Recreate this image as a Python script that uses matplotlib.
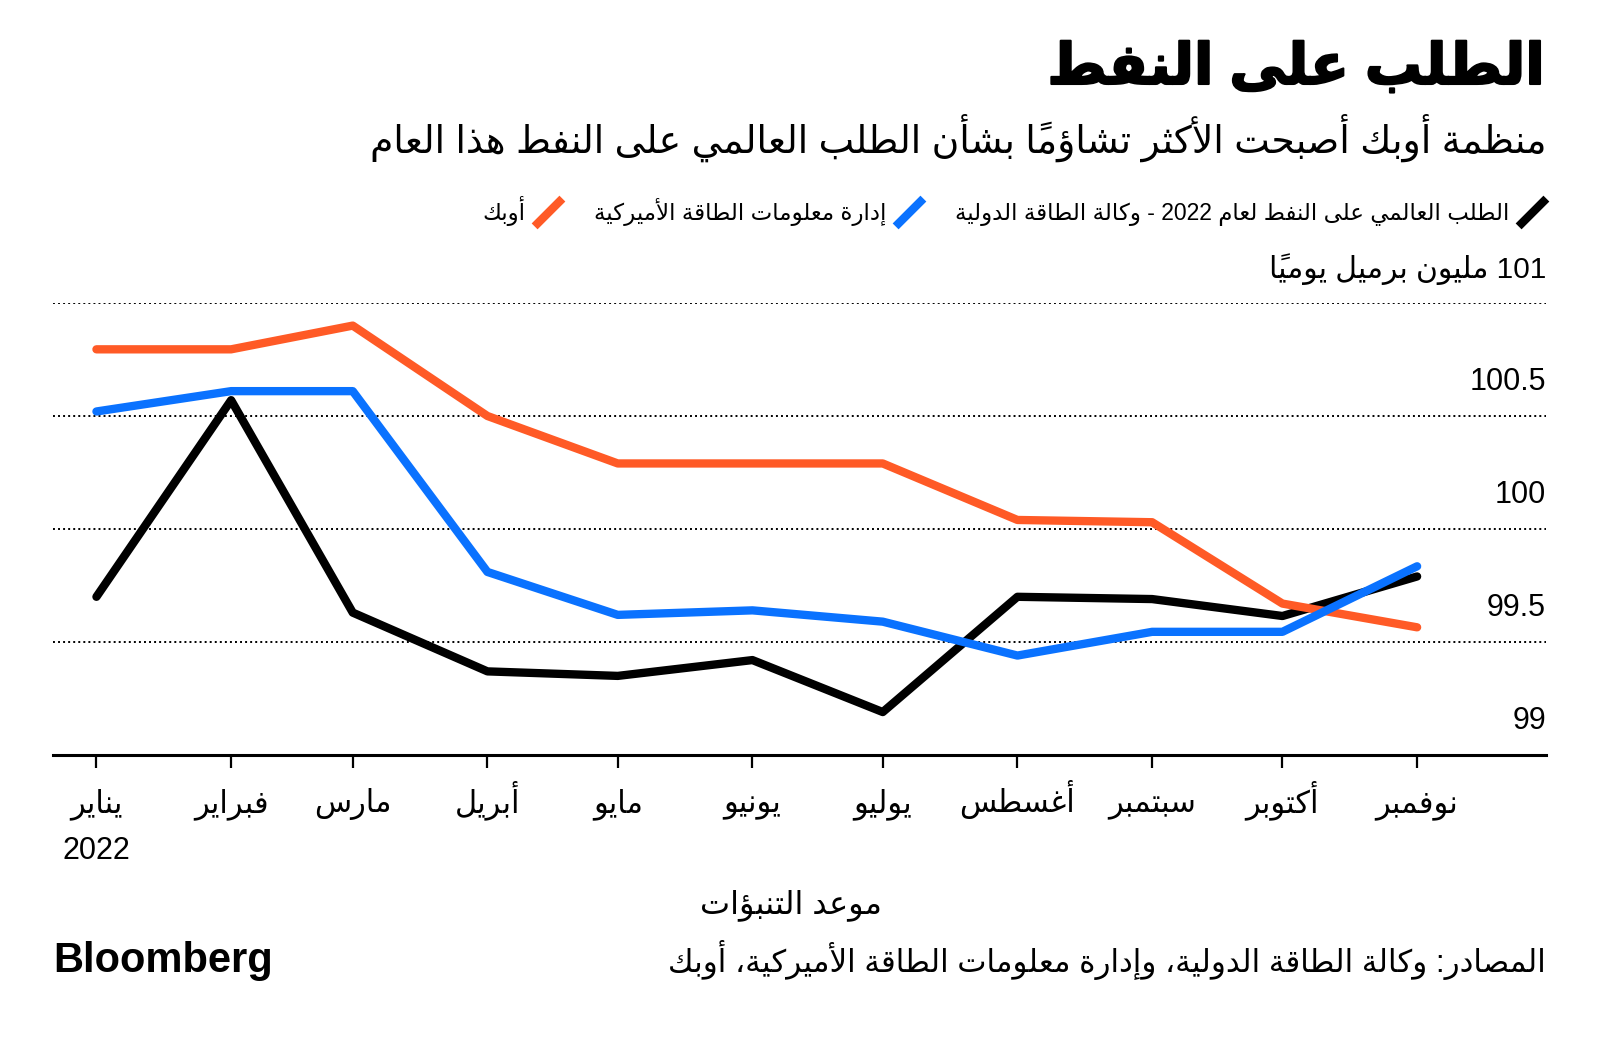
import datetime as dt
import matplotlib
matplotlib.use('Agg')
import matplotlib.pyplot as plt
import matplotlib.patheffects as pe
from matplotlib.lines import Line2D
from matplotlib.path import Path
from matplotlib.markers import MarkerStyle
from matplotlib.transforms import offset_copy

# ---- data ----
dates = ['2022-01-01', '2022-02-01', '2022-03-01', '2022-04-01', '2022-05-01', '2022-06-01',
         '2022-07-01', '2022-08-01', '2022-09-01', '2022-10-01', '2022-11-01']
iea = [99.70, 100.57, 99.63, 99.37, 99.35, 99.42, 99.19, 99.70, 99.69, 99.615, 99.79]
eia = [100.52, 100.61, 100.61, 99.81, 99.62, 99.64, 99.59, 99.44, 99.545, 99.545, 99.835]
opec = [100.795, 100.795, 100.90, 100.50, 100.29, 100.29, 100.29, 100.04, 100.03, 99.67, 99.565]

months = ['يناير', 'فبراير', 'مارس', 'أبريل', 'مايو', 'يونيو', 'يوليو',
          'أغسطس', 'سبتمبر', 'أكتوبر', 'نوفمبر']
year_label = '2022'
yticks = [99, 99.5, 100, 100.5, 101]
ylabels = ['99', '99.5', '100', '100.5', '101 مليون برميل يومياً']

names = ['الطلب العالمي على النفط لعام 2022 - وكالة الطاقة الدولية',
         'إدارة معلومات الطاقة الأميركية', 'أوبك']
colors = ['black', '#0a72ff', '#ff5a26']

title = 'الطلب على النفط'
subtitle = 'منظمة أوبك أصبحت الأكثر تشاؤماً بشأن الطلب العالمي على النفط هذا العام'
xlabel = 'موعد التنبؤات'
source = 'المصادر: وكالة الطاقة الدولية، وإدارة معلومات الطاقة الأميركية، أوبك'


# ---- minimal arabic shaping (no reshaper lib available) ----
ARABIC = {
    'ء': (0xFE80, 1), 'آ': (0xFE81, 2), 'أ': (0xFE83, 2), 'ؤ': (0xFE85, 2), 'إ': (0xFE87, 2),
    'ئ': (0xFE89, 4), 'ا': (0xFE8D, 2), 'ب': (0xFE8F, 4), 'ة': (0xFE93, 2), 'ت': (0xFE95, 4),
    'ث': (0xFE99, 4), 'ج': (0xFE9D, 4), 'ح': (0xFEA1, 4), 'خ': (0xFEA5, 4), 'د': (0xFEA9, 2),
    'ذ': (0xFEAB, 2), 'ر': (0xFEAD, 2), 'ز': (0xFEAF, 2), 'س': (0xFEB1, 4), 'ش': (0xFEB5, 4),
    'ص': (0xFEB9, 4), 'ض': (0xFEBD, 4), 'ط': (0xFEC1, 4), 'ظ': (0xFEC5, 4), 'ع': (0xFEC9, 4),
    'غ': (0xFECD, 4), 'ف': (0xFED1, 4), 'ق': (0xFED5, 4), 'ك': (0xFED9, 4), 'ل': (0xFEDD, 4),
    'م': (0xFEE1, 4), 'ن': (0xFEE5, 4), 'ه': (0xFEE9, 4), 'و': (0xFEED, 2), 'ى': (0xFEEF, 2),
    'ي': (0xFEF1, 4),
}
LAM_ALEF = {'آ': 0xFEF5, 'أ': 0xFEF7, 'إ': 0xFEF9, 'ا': 0xFEFB}
MARKS = set(chr(c) for c in range(0x064B, 0x0653))


def joins_next(c):
    return c in ARABIC and ARABIC[c][1] == 4


def joins_prev(c):
    return c in ARABIC and ARABIC[c][1] >= 2


def shape_line(text):
    clusters = []
    for c in text:
        if c in MARKS and clusters:
            clusters[-1][1] += c
        else:
            clusters.append([c, ''])
    res = []
    k = 0
    while k < len(clusters):
        c, marks = clusters[k]
        prev = clusters[k - 1][0] if k > 0 else None
        nxt = clusters[k + 1][0] if k + 1 < len(clusters) else None
        p = prev is not None and joins_next(prev) and joins_prev(c)
        if c == 'ل' and nxt in LAM_ALEF:
            res.append(chr(LAM_ALEF[nxt] + (1 if p else 0)) + marks + clusters[k + 1][1])
            k += 2
            continue
        if c in ARABIC:
            base, cnt = ARABIC[c]
            n = nxt is not None and joins_next(c) and joins_prev(nxt)
            if cnt == 1:
                form = 0
            elif cnt == 2:
                form = 1 if p else 0
            else:
                form = (3 if n else 1) if p else (2 if n else 0)
            c = chr(base + form)
        res.append(c + marks)
        k += 1
    # right-to-left, but keep runs of digits / latin in order
    runs = []
    for g in res:
        ltr = g.isascii() and (g.isalnum() or g == '.')
        if ltr and runs and runs[-1][0]:
            runs[-1][1].append(g)
        else:
            runs.append([ltr, [g]])
    return ''.join(''.join(r) for _, r in reversed(runs))


def ar(text):
    return '\n'.join(shape_line(l) for l in text.split('\n'))


plt.rcParams['font.family'] = ['Liberation Sans', 'DejaVu Sans']

fig = plt.figure(figsize=(16, 10.42), dpi=100)
ax = fig.add_axes([53 / 1600, 1 - 755 / 1042, 1493 / 1600, 452 / 1042])

x = [dt.datetime.strptime(d, '%Y-%m-%d') for d in dates]
for ys, c, z in [(iea, colors[0], 3), (opec, colors[2], 4), (eia, colors[1], 5)]:
    ax.plot(x, ys, color=c, lw=6, solid_capstyle='round', solid_joinstyle='round', zorder=z)

ax.set_xlim(dt.datetime(2021, 12, 22), dt.datetime(2022, 11, 30, 16))
ax.set_ylim(99, 101)

ax.set_yticks(yticks)
ax.tick_params(axis='y', length=0, labelleft=False)
ax.grid(axis='y', color='black', linestyle=(0, (1, 1.6)), linewidth=1.4)
for v, lab in zip(yticks, ylabels):
    tr = offset_copy(ax.get_yaxis_transform(), fig=fig, x=0, y=34, units='dots')
    size = 21.5 if v == 101 else 22
    ax.text(1.0, v, ar(lab), transform=tr, ha='right', va='center', fontsize=size)

ax.set_xticks(x)
ax.set_xticklabels([ar(m) for m in months], fontsize=22, va='baseline')
ax.tick_params(axis='x', length=9, width=1.6, pad=32, colors='black')
# year under the first month
ax.xaxis.remove_overlapping_locs = False
ax.set_xticks(x[:1], [year_label], minor=True)
for t in ax.get_xticklabels(minor=True):
    t.set_fontsize(22)
    t.set_va('baseline')
ax.tick_params(axis='x', which='minor', length=0, pad=75)

for s in ['top', 'left', 'right']:
    ax.spines[s].set_visible(False)
ax.spines['bottom'].set_linewidth(2.2)

# legend, right-to-left with slanted line handles
slash = MarkerStyle(Path([[-1, -1], [1, 1]], [Path.MOVETO, Path.LINETO]))
handles = [Line2D([], [], color=c, marker=slash, linestyle='none', markersize=20, mew=6)
           for c in colors]
order = [2, 1, 0]
fig.legend([handles[i] for i in order], [ar(names[i]) for i in order],
           loc='center right', bbox_to_anchor=(1546 / 1600, 1 - 211 / 1042), ncol=3,
           frameon=False, markerfirst=False, fontsize=16.5, handlelength=1.2,
           handletextpad=0.4, columnspacing=1.4, borderpad=0, borderaxespad=0)

fig.text(1546 / 1600, 1 - 69 / 1042, ar(title), ha='right', va='center',
         fontsize=41, fontweight='bold',
         path_effects=[pe.withStroke(linewidth=1.5, foreground='black')])
fig.text(1546 / 1600, 1 - 138 / 1042, ar(subtitle), ha='right', va='center', fontsize=27.2)
fig.text(791 / 1600, 1 - 905 / 1042, ar(xlabel), ha='center', va='center', fontsize=23)
fig.text(1546 / 1600, 1 - 960 / 1042, ar(source), ha='right', va='center', fontsize=22.3)
fig.text(53 / 1600, 1 - 961 / 1042, 'Bloomberg', ha='left', va='center',
         fontsize=30, fontweight='bold')

fig.savefig('out.png', dpi=100)
